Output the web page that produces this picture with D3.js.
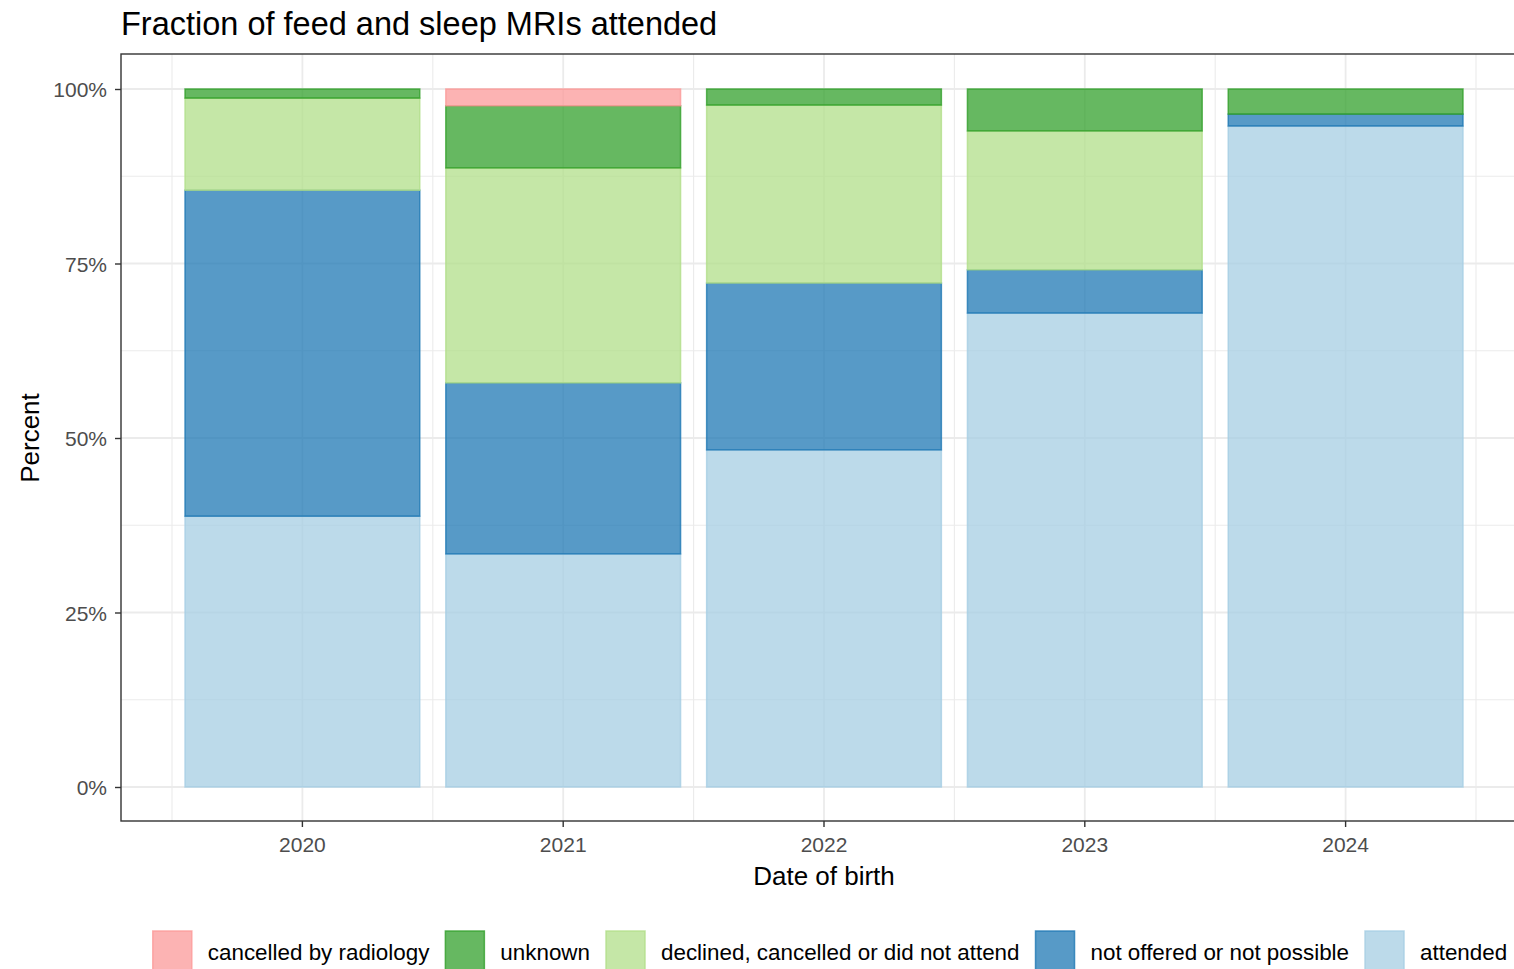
<!DOCTYPE html>
<html><head><meta charset="utf-8">
<script src="https://cdn.jsdelivr.net/npm/d3@7"></script>
<style>html,body{margin:0;padding:0;background:#fff;overflow:hidden}svg{display:block;font-family:"Liberation Sans",Arial,sans-serif}</style>
</head><body>
<svg id="c" width="1514" height="969"></svg>
<script>
const years = ["2020","2021","2022","2023","2024"];
const categories = ["attended","not offered or not possible","declined, cancelled or did not attend","unknown","cancelled by radiology"];
const attended   = [38.8, 33.4, 48.3, 67.9, 94.7];
const notOffered = [46.7, 24.5, 23.9,  6.2,  1.7];
const declined   = [13.2, 30.8, 25.5, 19.9,  0.0];
const unknown    = [ 1.3,  8.9,  2.3,  6.0,  3.6];
const cancelled  = [ 0.0,  2.4,  0.0,  0.0,  0.0];
const colors = ["#A6CEE3","#1F78B4","#B2DF8A","#33A02C","#FB9A99"];
const yTicks = [0, 0.25, 0.5, 0.75, 1];
const legendOrder = ["cancelled by radiology","unknown","declined, cancelled or did not attend","not offered or not possible","attended"];

const series = [attended, notOffered, declined, unknown, cancelled];
const rows = years.map((y,i)=>{const r={year:y}; categories.forEach((c,k)=>r[c]=series[k][i]/100); return r;});
const stack = d3.stack().keys(categories)(rows);
const color = d3.scaleOrdinal().domain(categories).range(colors);

const svg = d3.select("#c");
const P = {l:121, t:54, r:1530, b:821};
const x = d3.scaleBand().domain(years).range([172,1476]).paddingInner(0.1).paddingOuter(0.05);
const y = d3.scaleLinear().domain([0,1]).range([787,89]);

// grid
const g = svg.append("g");
const minorY = [0.125,0.375,0.625,0.875];
g.selectAll(".my").data(minorY).join("line").attr("x1",P.l).attr("x2",P.r).attr("y1",d=>y(d)).attr("y2",d=>y(d)).attr("stroke","#EBEBEB").attr("stroke-width",1.1);
const step = x.step();
const minorX = years.map(d=>x(d)+x.bandwidth()/2-step/2).concat([x(years[years.length-1])+x.bandwidth()/2+step/2]);
g.selectAll(".mx").data(minorX).join("line").attr("x1",d=>d).attr("x2",d=>d).attr("y1",P.t).attr("y2",P.b).attr("stroke","#EBEBEB").attr("stroke-width",1.1);
g.selectAll(".gy").data(yTicks).join("line").attr("x1",P.l).attr("x2",P.r).attr("y1",d=>y(d)).attr("y2",d=>y(d)).attr("stroke","#EBEBEB").attr("stroke-width",1.8);
g.selectAll(".gx").data(years).join("line").attr("x1",d=>x(d)+x.bandwidth()/2).attr("x2",d=>x(d)+x.bandwidth()/2).attr("y1",P.t).attr("y2",P.b).attr("stroke","#EBEBEB").attr("stroke-width",1.8);

// bars
svg.append("g").selectAll("g").data(stack).join("g")
  .attr("fill",d=>color(d.key)).attr("stroke",d=>color(d.key))
  .selectAll("rect").data(d=>d.filter(s=>s[1]-s[0]>0)).join("rect")
  .attr("x",d=>x(d.data.year)).attr("width",x.bandwidth())
  .attr("y",d=>y(d[1])).attr("height",d=>y(d[0])-y(d[1]))
  .attr("fill-opacity",0.75).attr("stroke-opacity",0.8).attr("stroke-width",1.5);

// border
svg.append("rect").attr("x",P.l).attr("y",P.t).attr("width",P.r-P.l).attr("height",P.b-P.t).attr("fill","none").attr("stroke","#333333").attr("stroke-width",1.4);

// axes
const yAxis = d3.axisLeft(y).tickValues(yTicks).tickFormat(d3.format(".0%")).tickSize(6).tickPadding(8);
const ya = svg.append("g").attr("transform",`translate(${P.l},0)`).call(yAxis);
ya.select(".domain").remove();
ya.selectAll(".tick line").attr("stroke","#333333").attr("stroke-width",1.4);
ya.selectAll(".tick text").attr("fill","#4D4D4D").attr("font-size",21).attr("dy","0.38em").attr("font-family","Liberation Sans, Arial, sans-serif");

const xAxis = d3.axisBottom(x).tickSize(6).tickPadding(10);
const xa = svg.append("g").attr("transform",`translate(0,${P.b})`).call(xAxis);
xa.select(".domain").remove();
xa.selectAll(".tick line").attr("stroke","#333333").attr("stroke-width",1.4);
xa.selectAll(".tick text").attr("fill","#4D4D4D").attr("font-size",21).attr("font-family","Liberation Sans, Arial, sans-serif");

// titles
svg.append("text").attr("x",121).attr("y",35).attr("font-size",32.5).attr("fill","#000").text("Fraction of feed and sleep MRIs attended");
svg.append("text").attr("x",824).attr("y",885).attr("text-anchor","middle").attr("font-size",26).attr("fill","#000").text("Date of birth");
svg.append("text").attr("transform","translate(39,438) rotate(-90)").attr("text-anchor","middle").attr("font-size",26).attr("fill","#000").text("Percent");

// legend
const lg = svg.append("g");
const items = lg.selectAll("g").data(legendOrder).join("g");
items.append("rect").attr("width",39).attr("height",39).attr("fill",d=>color(d)).attr("stroke",d=>color(d)).attr("fill-opacity",0.75).attr("stroke-opacity",0.8).attr("stroke-width",1.5);
items.append("text").attr("x",55).attr("y",29).attr("font-size",22.4).attr("fill","#000").text(d=>d);
let cx = 0; const pos=[];
items.each(function(){const w=d3.select(this).select("text").node().getComputedTextLength(); pos.push(cx); cx += 55 + w + 16;});
const total = cx - 16;
const start = 830 - total/2;
items.attr("transform",(d,i)=>`translate(${start+pos[i]},931)`);
</script>
</body></html>
